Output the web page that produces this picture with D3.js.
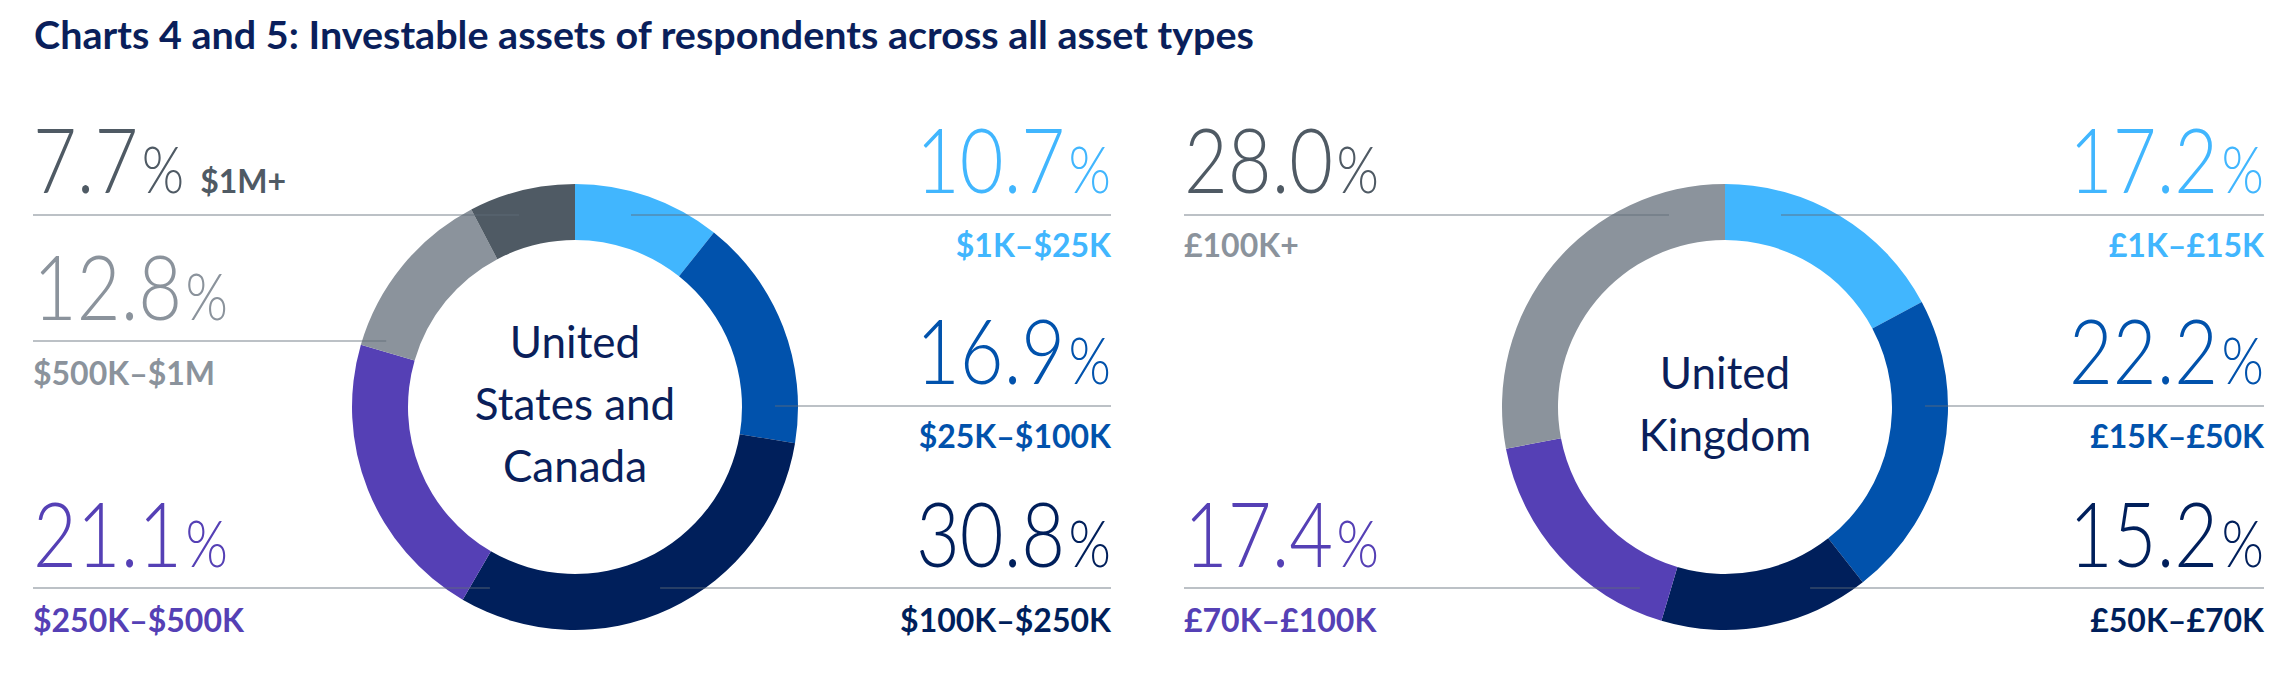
<!DOCTYPE html>
<html>
<head>
<meta charset="utf-8">
<script src="https://cdn.jsdelivr.net/npm/d3@7"></script>
<style>
  body { margin: 0; background: #fff; }
  svg { display: block; }
</style>
</head>
<body>
<svg id="chart" width="2296" height="694"></svg>
<script>
const title = "Charts 4 and 5: Investable assets of respondents across all asset types";

const usCategories = ["$1K–$25K", "$25K–$100K", "$100K–$250K", "$250K–$500K", "$500K–$1M", "$1M+"];
const usValues = [10.7, 16.9, 30.8, 21.1, 12.8, 7.7];
const usName = ["United", "States and", "Canada"];

const ukCategories = ["£1K–£15K", "£15K–£50K", "£50K–£70K", "£70K–£100K", "£100K+"];
const ukValues = [17.2, 22.2, 15.2, 17.4, 28.0];
const ukName = ["United", "Kingdom"];

const usColors = ["#41b6fe", "#0152ac", "#001f5b", "#5540b5", "#8b939c", "#4f5a64"];
const usNumberColors = usColors;
const usLabelColors = usColors;
const ukColors = ["#41b6fe", "#0152ac", "#001f5b", "#5540b5", "#8b939c"];
const ukNumberColors = ["#41b6fe", "#0152ac", "#001f5b", "#5540b5", "#4f5a64"];
const ukLabelColors = ukColors;

// which text slot each category goes to (layout only)
const usSlots = ["R1", "R2", "R3", "L3", "L2", "L1inline"];
const ukSlots = ["R1", "R2", "R3", "L3", "L1"];

const rows = {
  "1": { pct: 193, line: 215, label: 257 },
  "L2": { pct: 320, line: 341, label: 385 },
  "R2": { pct: 384, line: 406, label: 448 },
  "3": { pct: 567, line: 588, label: 632 }
};

const svg = d3.select("#chart");
const navy = "#0a1f5b";
const cy = 407, outerR = 223, innerR = 167, leadR = 200;
const pctSize = 90, labelSize = 32, squeeze = 0.84;

svg.append("text")
  .attr("x", 34)
  .attr("y", 49)
  .attr("fill", navy)
  .style("font-family", "Lato, 'Open Sans', sans-serif")
  .style("font-weight", 700)
  .style("font-size", "39px")
  .attr("textLength", 1220)
  .attr("lengthAdjust", "spacingAndGlyphs")
  .text(title);

function drawPanel(opt) {
  let pie = d3.pie().sort(null).value(d => d.value);
  let arc = d3.arc().innerRadius(innerR).outerRadius(outerR);
  let data = opt.categories.map((c, i) => ({
    name: c, value: opt.values[i], color: opt.colors[i],
    numColor: opt.numberColors[i], labelColor: opt.labelColors[i], slot: opt.slots[i]
  }));

  let g = svg.append("g");
  let donut = g.append("g").attr("transform", "translate(" + opt.cx + "," + cy + ")");
  donut.selectAll("path")
    .data(pie(data))
    .enter()
    .append("path")
    .attr("d", arc)
    .attr("fill", d => d.data.color);

  let name = donut.append("text")
    .attr("text-anchor", "middle")
    .attr("fill", navy)
    .style("font-family", "Lato, 'Open Sans', sans-serif")
    .style("font-size", "44px");
  opt.name.forEach((line, i) => {
    name.append("tspan")
      .attr("x", 0)
      .attr("y", (i - (opt.name.length - 1) / 2) * 62 + 13)
      .text(line);
  });

  let lines = g.append("g");
  let texts = g.append("g");

  data.forEach(d => {
    let left = d.slot[0] === "L";
    let rowKey = d.slot.slice(0, 2) === "L2" || d.slot.slice(0, 2) === "R2" ? d.slot.slice(0, 2) : d.slot[1];
    let row = rows[rowKey];
    let x = left ? opt.left : opt.right;

    let num = texts.append("text")
      .attr("transform", "translate(" + x + "," + row.pct + ") scale(" + squeeze + ",1)")
      .attr("text-anchor", left ? "start" : "end")
      .attr("fill", d.numColor)
      .style("font-family", "Lato, 'Open Sans', sans-serif")
      .style("font-weight", 300)
      .style("font-size", pctSize + "px");
    num.append("tspan").text(d.value.toFixed(1));
    num.append("tspan").attr("dx", 4).style("font-size", (pctSize * 0.72) + "px").text("%");

    let lbl = texts.append("text")
      .attr("fill", d.labelColor)
      .attr("text-anchor", left ? "start" : "end")
      .style("font-family", "Lato, 'Open Sans', sans-serif")
      .style("font-weight", 700)
      .style("font-size", labelSize + "px")
      .text(d.name);
    if (d.slot.endsWith("inline")) {
      let w = num.node().getBBox().width * squeeze;
      lbl.attr("x", x + w + 16).attr("y", row.pct);
    } else {
      lbl.attr("x", x).attr("y", row.label);
    }

    let dy = row.line - cy;
    let reach = Math.sqrt(Math.max(leadR * leadR - dy * dy, 0));
    let end = left ? opt.cx - reach : opt.cx + reach;
    lines.append("line")
      .attr("x1", x)
      .attr("x2", end)
      .attr("y1", row.line)
      .attr("y2", row.line)
      .attr("stroke", "#5f6b76")
      .attr("stroke-opacity", 0.42)
      .attr("stroke-width", 2);
  });
}

drawPanel({
  categories: usCategories, values: usValues, colors: usColors,
  numberColors: usNumberColors, labelColors: usLabelColors, slots: usSlots,
  name: usName, cx: 575, left: 33, right: 1111
});

drawPanel({
  categories: ukCategories, values: ukValues, colors: ukColors,
  numberColors: ukNumberColors, labelColors: ukLabelColors, slots: ukSlots,
  name: ukName, cx: 1725, left: 1184, right: 2264
});
</script>
</body>
</html>
